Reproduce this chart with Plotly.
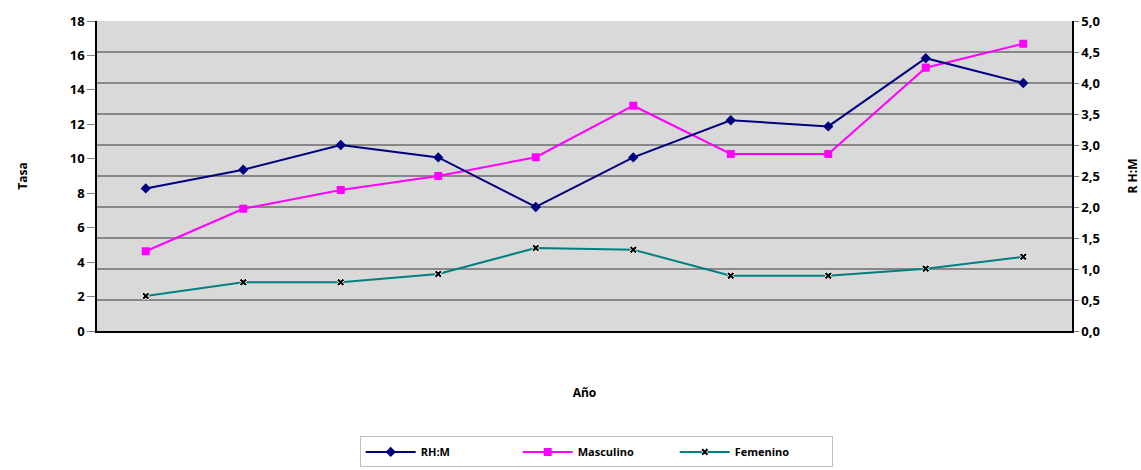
import plotly.graph_objects as go

# Series values per point along the horizontal axis
puntos = [1, 2, 3, 4, 5, 6, 7, 8, 9, 10]
rh_m = [2.30, 2.60, 3.00, 2.80, 2.00, 2.80, 3.40, 3.30, 4.40, 4.00]
masculino = [4.63, 7.10, 8.19, 9.00, 10.09, 13.08, 10.28, 10.28, 15.29, 16.68]
femenino = [2.03, 2.83, 2.83, 3.31, 4.82, 4.72, 3.21, 3.21, 3.62, 4.31]

tasa_ticks = [0, 2, 4, 6, 8, 10, 12, 14, 16, 18]
ratio_ticks = [0, 0.5, 1.0, 1.5, 2.0, 2.5, 3.0, 3.5, 4.0, 4.5, 5.0]

FAMILY = "Open Sans"
FONT = dict(family=FAMILY, size=13, color="#000000", weight=700)
TITLE_FONT = dict(family=FAMILY, size=12, color="#000000", weight=700)
LEG_FONT = dict(family=FAMILY, size=11, color="#000000", weight=700)

fig = go.Figure()

fig.add_trace(go.Scatter(
    x=puntos, y=rh_m, name="RH:M", yaxis="y2", mode="lines+markers",
    line=dict(color="#000080", width=2),
    marker=dict(symbol="diamond", size=8, color="#000080"),
))
fig.add_trace(go.Scatter(
    x=puntos, y=masculino, name="Masculino", yaxis="y", mode="lines+markers",
    line=dict(color="#FF00FF", width=2),
    marker=dict(symbol="square", size=8, color="#FF00FF"),
))
fig.add_trace(go.Scatter(
    x=puntos, y=femenino, name="Femenino", yaxis="y", mode="lines+markers",
    line=dict(color="#008080", width=2),
    marker=dict(symbol="x", size=7, color="#000000", line=dict(color="#FFFFFF", width=1)),
))

fig.update_layout(
    width=1141, height=470,
    margin=dict(l=97, r=69, t=21, b=139, autoexpand=False),
    paper_bgcolor="#FFFFFF",
    plot_bgcolor="#D9D9D9",
    font=FONT,
    separators=",.",
    showlegend=True,
    legend=dict(
        orientation="h", x=0.512, xanchor="center", y=-0.34, yanchor="top",
        bordercolor="#BFBFBF", borderwidth=1, bgcolor="#FFFFFF",
        font=LEG_FONT, entrywidth=92, itemwidth=50,
    ),
    xaxis=dict(
        range=[0.5, 10.5], showticklabels=False, ticks="", showgrid=False,
        zeroline=False, showline=True, linecolor="#000000", linewidth=1.5,
        title=dict(text="Año", standoff=57, font=TITLE_FONT),
    ),
    yaxis=dict(
        range=[0, 18], tickvals=tasa_ticks, showgrid=False, zeroline=False,
        showline=True, linecolor="#000000", linewidth=1.5,
        ticks="outside", ticklen=8, tickcolor="#808080", tickfont=FONT,
        title=dict(text="Tasa", standoff=40, font=TITLE_FONT),
    ),
    yaxis2=dict(
        range=[0, 5], tickvals=ratio_ticks, tickformat=".1f", overlaying="y", side="right",
        showgrid=True, gridcolor="#878787", gridwidth=2, zeroline=False,
        showline=True, linecolor="#000000", linewidth=1.5,
        ticks="outside", ticklen=5, tickcolor="#808080", tickfont=FONT,
        title=dict(text="R H:M", standoff=30, font=TITLE_FONT),
    ),
)

fig.write_html("out.html")
